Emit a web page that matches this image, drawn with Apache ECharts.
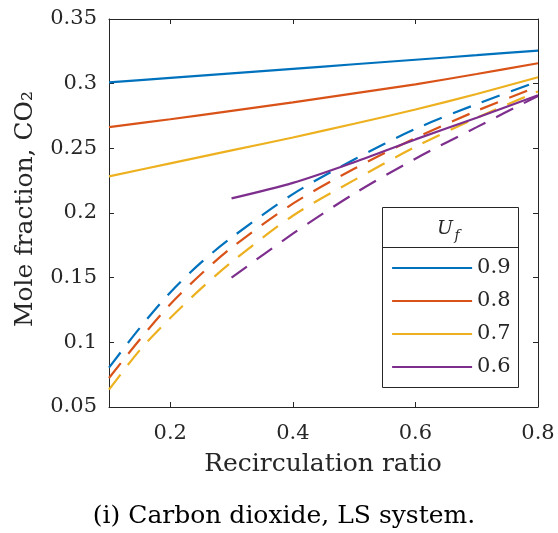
<!DOCTYPE html>
<html>
<head>
<meta charset="utf-8">
<script src="https://cdn.jsdelivr.net/npm/echarts@6/dist/echarts.min.js"></script>
<style>
html,body{margin:0;padding:0;background:#fff;}
#c{width:558px;height:533px;}
</style>
</head>
<body>
<div id="c"></div>
<script>
// ---- data ----
const legendNames = ['0.9', '0.8', '0.7', '0.6'];
const colors = ['#0072BD', '#D95319', '#EDB120', '#7E2F8E'];

// solid lines
const xSolid = [0.1, 0.2, 0.3, 0.4, 0.5, 0.6, 0.7, 0.8];
const solid09 = [0.301, 0.3045, 0.308, 0.3115, 0.315, 0.3185, 0.322, 0.3256];
const solid08 = [0.2664, 0.2725, 0.279, 0.2855, 0.2925, 0.2995, 0.3075, 0.3158];
const solid07 = [0.2283, 0.2384, 0.2484, 0.2584, 0.269, 0.280, 0.292, 0.305];
const xSolid06 = [0.3, 0.4, 0.5, 0.6, 0.7, 0.8];
const solid06 = [0.2113, 0.2233, 0.2393, 0.2569, 0.2737, 0.291];

// dashed lines
const xDashed = [0.1, 0.15, 0.2, 0.25, 0.3, 0.4, 0.5, 0.6, 0.7, 0.8];
const dashed09 = [0.0805, 0.111, 0.1386, 0.1616, 0.181, 0.2146, 0.2414, 0.265, 0.2842, 0.3017];
const dashed08 = [0.0724, 0.102, 0.1294, 0.1526, 0.1732, 0.2072, 0.2342, 0.2579, 0.279, 0.2978];
const dashed07 = [0.0634, 0.0938, 0.1188, 0.1415, 0.162, 0.1979, 0.2254, 0.2512, 0.2736, 0.294];
const xDashed06 = [0.3, 0.4, 0.5, 0.6, 0.7, 0.8];
const dashed06 = [0.15, 0.184, 0.2149, 0.242, 0.2664, 0.2905];

// axes
const xMin = 0.1, xMax = 0.8;
const xTickValues = [0.2, 0.4, 0.6, 0.8];
const yMin = 0.05, yMax = 0.35, yInterval = 0.05;

const xTitle = 'Recirculation ratio';
const yTitle = 'Mole fraction, CO\u2082';
const caption = '(i) Carbon dioxide, LS system.';

// ---- build ----
const zip = (xs, ys) => xs.map((x, i) => [x, ys[i]]);
const FONT = 'DejaVu Serif';
const AX = '#262626';

const solidSets = [[xSolid, solid09], [xSolid, solid08], [xSolid, solid07], [xSolid06, solid06]];
const dashedSets = [[xDashed, dashed09], [xDashed, dashed08], [xDashed, dashed07], [xDashed06, dashed06]];

const series = [];
dashedSets.forEach((s, i) => {
  series.push({
    name: legendNames[i] + ' dashed',
    type: 'line',
    data: zip(s[0], s[1]),
    symbol: 'none',
    smooth: 0.3,
    lineStyle: { color: colors[i], width: 2.2, type: [19, 12], cap: 'butt' },
    itemStyle: { color: colors[i] },
    z: 3
  });
});
solidSets.forEach((s, i) => {
  series.push({
    name: legendNames[i],
    type: 'line',
    data: zip(s[0], s[1]),
    symbol: 'none',
    smooth: 0.3,
    lineStyle: { color: colors[i], width: 2.2 },
    itemStyle: { color: colors[i] },
    z: 4
  });
});

const fmt = v => String(parseFloat(v.toFixed(3)));

const baseAxis = {
  axisLine: { show: true, onZero: false, lineStyle: { color: AX, width: 1 } },
  splitLine: { show: false }
};

const chart = echarts.init(document.getElementById('c'), null, { renderer: 'canvas' });
chart.setOption({
  animation: false,
  backgroundColor: '#fff',
  grid: { left: 109, right: 20, top: 19, bottom: 126, containLabel: false },
  xAxis: [
    Object.assign({}, baseAxis, {
      type: 'value', min: xMin, max: xMax, position: 'bottom',
      axisTick: { show: true, inside: true, length: 5, lineStyle: { color: AX }, customValues: xTickValues },
      axisLabel: { show: true, customValues: xTickValues, formatter: fmt, fontFamily: FONT, fontSize: 21, color: '#262626', margin: 16 }
    }),
    Object.assign({}, baseAxis, {
      type: 'value', min: xMin, max: xMax, position: 'top',
      axisTick: { show: true, inside: true, length: 5, lineStyle: { color: AX }, customValues: xTickValues },
      axisLabel: { show: false }
    })
  ],
  yAxis: [
    Object.assign({}, baseAxis, {
      type: 'value', min: yMin, max: yMax, interval: yInterval, position: 'left',
      axisTick: { show: true, inside: true, length: 5, lineStyle: { color: AX } },
      axisLabel: { show: true, formatter: fmt, fontFamily: FONT, fontSize: 21, color: '#262626', margin: 12 }
    }),
    Object.assign({}, baseAxis, {
      type: 'value', min: yMin, max: yMax, interval: yInterval, position: 'right',
      axisTick: { show: true, inside: true, length: 5, lineStyle: { color: AX } },
      axisLabel: { show: false }
    })
  ],
  legend: {
    show: true,
    data: legendNames,
    orient: 'vertical',
    left: 391,
    top: 256,
    padding: 0,
    itemWidth: 80,
    itemHeight: 14,
    itemGap: 9,
    itemStyle: { opacity: 0 },
    lineStyle: { width: 2.2 },
    textStyle: { fontFamily: FONT, fontSize: 21, color: '#262626', lineHeight: 24 },
    selectedMode: false,
    z: 20
  },
  graphic: [
    { type: 'rect', z: 1, shape: { x: 382.5, y: 207.5, width: 136, height: 180 },
      style: { fill: '#fff', stroke: '#262626', lineWidth: 1 } },
    { type: 'line', z: 1, shape: { x1: 382.5, y1: 247.5, x2: 518.5, y2: 247.5 },
      style: { stroke: '#262626', lineWidth: 1 } },
    { type: 'text', z: 1, x: 445, y: 229,
      style: { text: 'U', font: 'italic 19px "DejaVu Serif"', fill: '#262626', align: 'center', verticalAlign: 'middle' } },
    { type: 'text', z: 1, x: 457, y: 236,
      style: { text: 'f', font: 'italic 14px "DejaVu Serif"', fill: '#262626', align: 'center', verticalAlign: 'middle' } },
    { type: 'text', x: 323, y: 464,
      style: { text: xTitle, font: '25px "DejaVu Serif"', fill: '#262626', align: 'center', verticalAlign: 'middle' } },
    { type: 'text', x: 25, y: 209, rotation: Math.PI / 2,
      style: { text: yTitle, font: '25px "DejaVu Serif"', fill: '#262626', align: 'center', verticalAlign: 'middle' } },
    { type: 'text', x: 284, y: 516,
      style: { text: caption, font: '25px "DejaVu Serif"', fill: '#000', align: 'center', verticalAlign: 'middle' } }
  ],
  series: series
});
</script>
</body>
</html>
